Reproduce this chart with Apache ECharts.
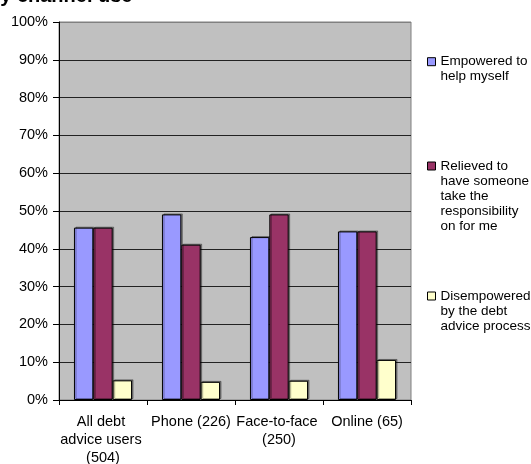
<!DOCTYPE html>
<html>
<head>
<meta charset="utf-8">
<script src="https://cdn.jsdelivr.net/npm/echarts@6/dist/echarts.min.js"></script>
<style>html,body{margin:0;padding:0;background:#fff}#c{width:531px;height:464px}</style>
</head>
<body>
<div id="c"></div>
<script>
const categories = ['All debt advice users (504)', 'Phone (226)', 'Face-to-face (250)', 'Online (65)'];
const empowered = [45.6, 49.1, 43.1, 44.6];
const relieved = [45.6, 41.1, 49.1, 44.6];
const disempowered = [5.2, 4.8, 5.1, 10.6];
const seriesNames = ['Empowered to\nhelp myself', 'Relieved to\nhave someone\ntake the\nresponsibility\non for me', 'Disempowered\nby the debt\nadvice process'];
const titleText = 'by channel use';

const FONT = 'Liberation Sans, Arial, sans-serif';
const colors = ['#9999FF', '#993366', '#FFFFCC'];
const values = [empowered, relieved, disempowered];
const legendFirstLine = [61.7, 166, 296];

const chart = echarts.init(document.getElementById('c'), null, {renderer: 'canvas'});
const gridLineColors = [];
for (let i = 0; i <= 10; i++) gridLineColors.push(i === 10 ? '#808080' : '#222222');

chart.setOption({
  animation: false,
  textStyle: {fontFamily: FONT},
  title: {
    text: titleText, left: -12, top: -14, padding: 0,
    textStyle: {fontFamily: FONT, fontWeight: 'bold', fontSize: 20, color: '#000'}
  },
  legend: seriesNames.map((n, i) => {
    const lines = n.split('\n').length;
    return {
      data: [n], orient: 'vertical', left: 427,
      top: legendFirstLine[i] - 7.5 - 15 * (lines - 1), padding: 0,
      itemWidth: 8, itemHeight: 8, icon: 'rect',
      itemStyle: {borderColor: '#000', borderWidth: 1, shadowColor: 'rgba(0,0,0,0)', shadowOffsetX: 0, shadowOffsetY: 0},
      formatter: name => '\n'.repeat(lines - 1) + name,
      textStyle: {fontFamily: FONT, fontSize: 13.5, color: '#000', lineHeight: 15}
    };
  }),
  grid: {
    left: 59, right: 120, top: 22, bottom: 64,
    containLabel: false, outerBoundsMode: 'none',
    show: true, backgroundColor: '#C0C0C0', borderColor: '#808080', borderWidth: 1
  },
  xAxis: {
    type: 'category', data: categories,
    axisLine: {lineStyle: {color: '#000', width: 1}},
    axisTick: {show: true, length: 5, alignWithLabel: false, lineStyle: {color: '#000'}},
    axisLabel: {interval: 0, margin: 13, width: 88, overflow: 'break', lineHeight: 18,
      fontFamily: FONT, fontSize: 14.5, color: '#000', align: 'center'},
    splitLine: {show: false}
  },
  yAxis: {
    type: 'value', min: 0, max: 100, interval: 10,
    axisLine: {show: true, lineStyle: {color: '#000', width: 1}},
    axisTick: {show: true, length: 6, lineStyle: {color: '#000'}},
    axisLabel: {formatter: '{value}%', margin: 11, fontFamily: FONT, fontSize: 14.5, color: '#000'},
    splitLine: {show: true, lineStyle: {color: gridLineColors, width: 1}}
  },
  series: seriesNames.map((n, i) => ({
    name: n, type: 'bar', data: values[i],
    barGap: '0%', barCategoryGap: '34%',
    itemStyle: {color: colors[i], borderColor: '#000', borderWidth: 1,
      shadowColor: 'rgba(0,0,0,0.35)', shadowBlur: 0, shadowOffsetX: 1.5, shadowOffsetY: -1},
    emphasis: {disabled: true}
  }))
});
</script>
</body>
</html>
